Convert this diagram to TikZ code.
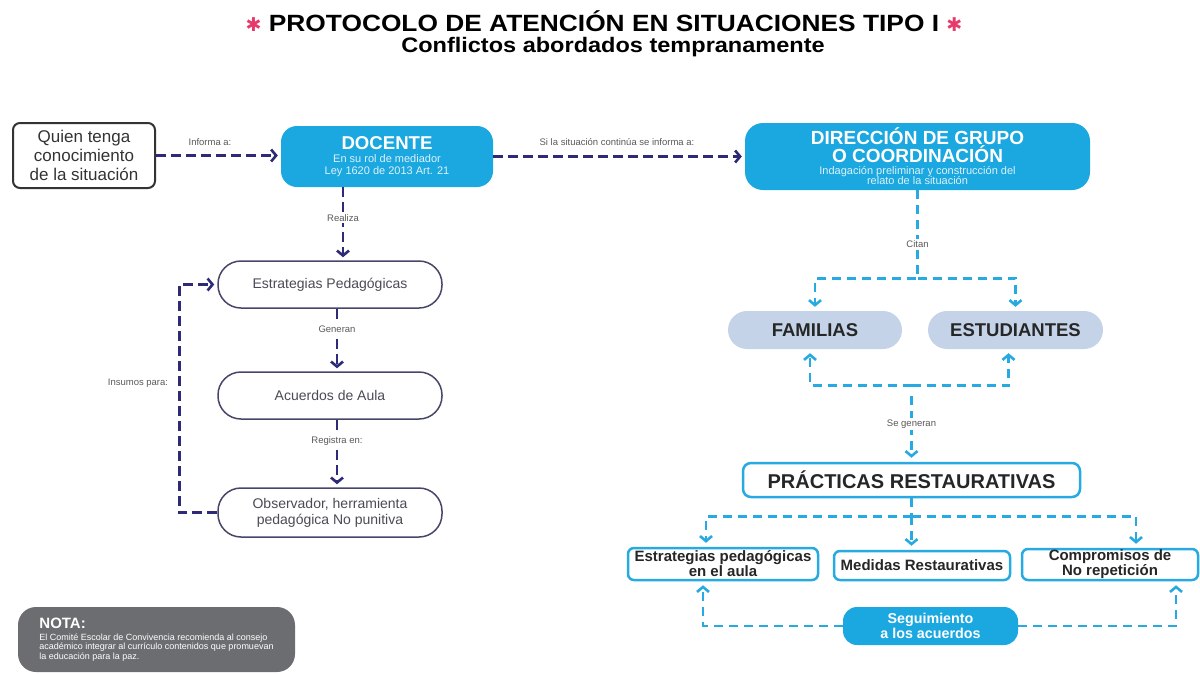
\documentclass[tikz,border=0pt]{standalone}
\usepackage{fontspec}
\setmainfont{Liberation Sans}
\newfontfamily\simbolos{DejaVu Sans}
\newfontfamily\ancha[FakeStretch=1.12]{Liberation Sans}
\usepackage{tikz}
\usetikzlibrary{calc,arrows,arrows.meta}

\definecolor{celeste}{RGB}{27,167,224}
\definecolor{celestelinea}{RGB}{38,170,225}
\definecolor{morado}{RGB}{45,42,120}
\definecolor{bordecaja}{RGB}{70,70,105}
\definecolor{textocaja}{RGB}{75,75,85}
\definecolor{grisazul}{RGB}{196,211,232}
\definecolor{rosa}{RGB}{230,58,106}
\definecolor{gristexto}{RGB}{90,90,90}
\definecolor{grisnota}{RGB}{108,109,112}

\begin{document}
\begin{tikzpicture}[x=1pt,y=-1pt,
    caja/.style={draw=bordecaja,line width=1.5pt,rounded corners=23pt,fill=white,minimum width=224pt,minimum height=47pt,inner sep=0pt,align=center,text=textocaja,font=\fontsize{14}{16}\selectfont},
    azul/.style={fill=celeste,text=white,align=center,inner sep=0pt},
    pastilla/.style={fill=grisazul,rounded corners=19pt,minimum height=38pt,inner sep=0pt,text=black!85,font=\fontsize{18.5}{20}\selectfont\bfseries},
    marco/.style={draw=celestelinea,line width=2.5pt,fill=white,rounded corners=6pt,inner sep=0pt,align=center,text=black!85},
    etiqueta/.style={fill=white,inner sep=1.5pt,text=gristexto,font=\fontsize{9.5}{10}\selectfont},
    flecha/.style={morado,line width=2.6pt,dash pattern=on 10pt off 5pt,-{Straight Barb[length=5pt,width=12pt]},shorten >=3pt},
    flechac/.style={celestelinea,line width=2.6pt,dash pattern=on 9pt off 6pt,-{Straight Barb[length=5pt,width=12pt]},shorten >=4pt},
    linc/.style={celestelinea,line width=2.6pt,dash pattern=on 9pt off 6pt}]
\useasboundingbox (0,0) rectangle (1200,673);

\node[font=\fontsize{23.5}{25}\ancha\bfseries](titulo)at(604,21){\textcolor{rosa}{\simbolos\fontsize{19}{20}\selectfont ✱} PROTOCOLO DE ATENCIÓN EN SITUACIONES TIPO I \textcolor{rosa}{\simbolos\fontsize{19}{20}\selectfont ✱}};
\node[font=\fontsize{21}{23}\ancha\bfseries](subtitulo)at(613,47){Conflictos abordados tempranamente};

\node[draw=black!80,line width=2pt,rounded corners=7pt,minimum width=142pt,minimum height=65pt,inner sep=0pt,align=center,text=black!80,font=\fontsize{17}{19}\selectfont](quien)at(84,155.5){Quien tenga\\conocimiento\\de la situación};
\node[azul,rounded corners=16pt,minimum width=212pt,minimum height=61pt,font=\fontsize{11}{12}\selectfont](docente)at(387,156.5){{\fontsize{18.6}{20}\selectfont\bfseries DOCENTE}\\[1pt]{\color{white!85!celeste}En su rol de mediador}\\{\color{white!85!celeste}Ley 1620 de 2013 Art. 21}};
\node[azul,rounded corners=18pt,minimum width=345pt,minimum height=67pt,font=\fontsize{11}{10.5}\selectfont](direccion)at(917.5,156.5){{\fontsize{19}{21}\selectfont\bfseries DIRECCIÓN DE GRUPO}\\{\fontsize{19}{21}\selectfont\bfseries O COORDINACIÓN}\\[1pt]{\color{white!85!celeste}Indagación preliminar y construcción del}\\{\color{white!85!celeste}relato de la situación}};

\node[caja](estrategias)at(330,284.5){Estrategias Pedagógicas};
\node[caja](acuerdos)at(330,395.5){Acuerdos de Aula};
\node[caja,minimum height=49pt](observador)at(330,512.5){Observador, herramienta\\pedagógica No punitiva};

\node[pastilla,minimum width=174pt](familias)at(815,330){FAMILIAS};
\node[pastilla,minimum width=175pt](estudiantes)at(1015.5,330){ESTUDIANTES};
\node[marco,rounded corners=8pt,minimum width=337pt,minimum height=34pt,font=\fontsize{20}{22}\selectfont\bfseries](practicas)at(911.5,480){PRÁCTICAS RESTAURATIVAS};
\node[marco,minimum width=190pt,minimum height=32pt,font=\fontsize{15}{12.5}\selectfont\bfseries](estrped)at(723,564){Estrategias pedagógicas\\en el aula};
\node[marco,minimum width=176pt,minimum height=29pt,font=\fontsize{15}{12.5}\selectfont\bfseries](medidas)at(922,565.5){Medidas Restaurativas};
\node[marco,minimum width=176pt,minimum height=31pt,font=\fontsize{15}{12.5}\selectfont\bfseries](compromisos)at(1110,564.5){Compromisos de\\No repetición};
\node[azul,rounded corners=14pt,minimum width=175pt,minimum height=38pt,font=\fontsize{14.3}{13}\selectfont\bfseries](seguimiento)at(930.5,626){Seguimiento\\a los acuerdos};

\node[fill=grisnota,rounded corners=18pt,minimum width=277pt,minimum height=65pt,inner sep=0pt,align=left,text=white,font=\fontsize{9}{9.6}\selectfont](nota)at(156.5,639.5){{\fontsize{15}{15}\selectfont\bfseries NOTA:}\\[2pt]El Comité Escolar de Convivencia recomienda al consejo\\académico integrar al currículo contenidos que promuevan\\la educación para la paz.};

\draw[flecha] (quien.east) -- (quien.east -| docente.west);
\draw[flecha] (docente.east) -- (direccion.west);
\draw[flecha] ([xshift=-44pt]docente.south) -- ([xshift=13pt]estrategias.north);
\draw[flecha] ([xshift=7pt]estrategias.south) -- ([xshift=7pt]acuerdos.north);
\draw[flecha] ([xshift=7pt]acuerdos.south) -- ([xshift=7pt]observador.north);
\draw[flecha] (observador.west) -- ++(-38,0) |- (estrategias.west);

\draw[flechac] (direccion.south) -- ++(0,88) coordinate (citan) -| (familias.north);
\draw[flechac] (citan) -| (estudiantes.north);
\coordinate (genera) at ($(practicas.north)+(0,-76)$);
\draw[flechac] (genera) -| ([xshift=-5pt]familias.south);
\draw[flechac] (genera) -| ([xshift=-7pt]estudiantes.south);
\draw[flechac] ([yshift=-10pt]genera) -- (practicas.north);
\coordinate (rest) at ($(practicas.south)+(0,18)$);
\draw[linc] (practicas.south) -- (rest);
\draw[flechac] (rest) -| ([xshift=-17pt]estrped.north);
\draw[flechac] (rest) -- (rest |- medidas.north);
\draw[flechac] (rest) -| ([xshift=26pt]compromisos.north);
\draw[flechac] (seguimiento.west) -| ([xshift=-20pt]estrped.south);
\draw[flechac] (seguimiento.east) -| ([xshift=66pt]compromisos.south);

\node[etiqueta](informa)at(210,142){Informa a:};
\node[etiqueta](continua)at(617,142){Si la situación continúa se informa a:};
\node[etiqueta](realiza)at(343,218){Realiza};
\node[etiqueta](generan)at(337,329){Generan};
\node[etiqueta](registra)at(337,441){Registra en:};
\node[etiqueta](insumos)at(138,383){Insumos para:};
\node[etiqueta](citanlbl)at(917.5,244){Citan};
\node[etiqueta](segeneran)at(911.5,424){Se generan};
\end{tikzpicture}
\end{document}
